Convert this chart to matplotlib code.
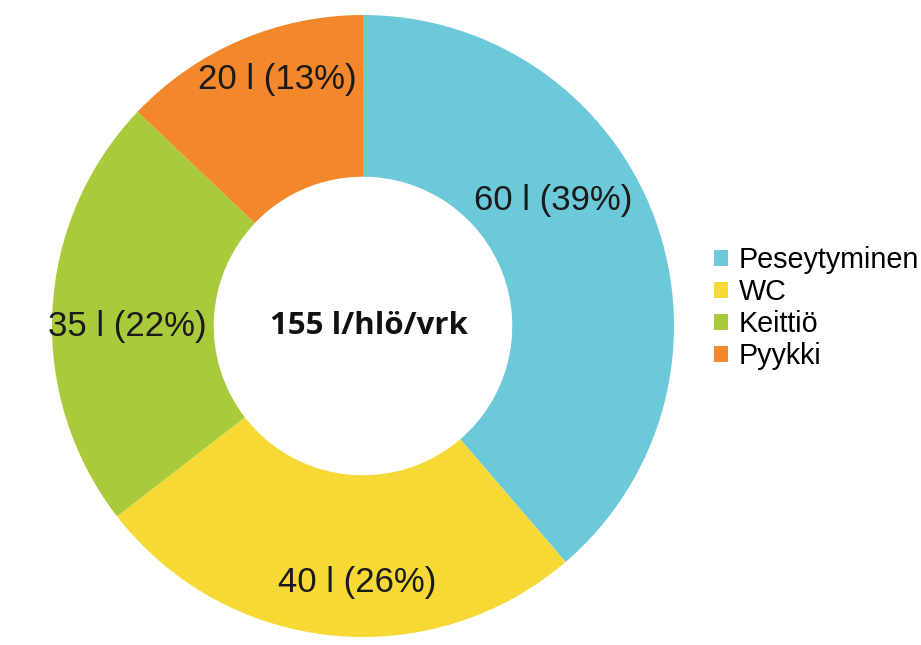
import matplotlib
matplotlib.use("Agg")
import matplotlib.pyplot as plt
from matplotlib.patches import Patch

categories = ["Peseytyminen", "WC", "Keittiö", "Pyykki"]
litres = [60, 40, 35, 20]
percents = [39, 26, 22, 13]
colors = ["#6BC9D9", "#F6D935", "#A9CA3A", "#F3872C"]
label_pos = [(0.611, 0.405), (-0.019, -0.826), (-0.759, -0.003), (-0.277, 0.791)]
center_text = "155 l/hlö/vrk"

W, H = 921, 645
fig = plt.figure(figsize=(W / 100, H / 100), dpi=100)
cx, cy, R = 363, 326, 311
ax = fig.add_axes([(cx - R) / W, (H - cy - R) / H, 2 * R / W, 2 * R / H])

wedges, _ = ax.pie(litres, colors=colors, startangle=90, counterclock=False,
                   radius=1, wedgeprops=dict(width=0.52, edgecolor="none"))
ax.set_xlim(-1, 1)
ax.set_ylim(-1, 1)
ax.set_aspect("equal")
ax.axis("off")

for (x, y), l, p in zip(label_pos, litres, percents):
    ax.text(x, y, f"{l} l ({p}%)", ha="center", va="center", fontsize=25,
            family="Liberation Sans", color="#1a1a1a")

ax.text(0.02, 0.0, center_text, ha="center", va="center", fontsize=22.5,
        family="Open Sans", fontweight="bold", color="#111111")

handles = [Patch(facecolor=c, edgecolor="none") for c in colors]
fig.legend(handles, categories, loc="upper left",
           bbox_to_anchor=(714 / W, 1 - 246 / H), frameon=False,
           prop=dict(family="Liberation Sans", size=20.7),
           handlelength=0.5, handleheight=0.5, handletextpad=0.35,
           labelspacing=0.14, borderaxespad=0, borderpad=0)

fig.savefig("out.png", dpi=100, facecolor="white")
